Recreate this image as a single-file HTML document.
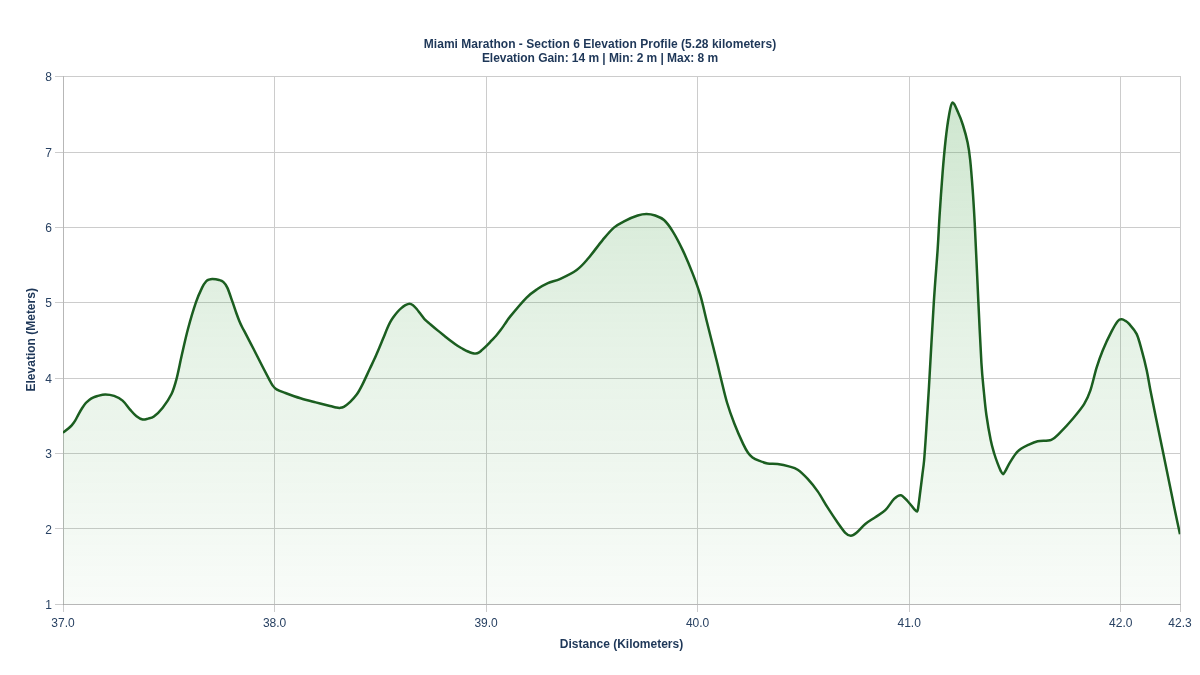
<!DOCTYPE html>
<html lang="en"><head><meta charset="utf-8"><title>Miami Marathon - Section 6 Elevation Profile</title>
<style>html,body{margin:0;padding:0;background:#fff;}body{width:1200px;height:675px;overflow:hidden;}svg{display:block;will-change:transform;font-family:"Liberation Sans",Arial,Helvetica,sans-serif;}</style></head><body>
<svg width="1200" height="675" viewBox="0 0 1200 675">
<defs><linearGradient id="g" gradientUnits="userSpaceOnUse" x1="0" y1="0" x2="0" y2="675"><stop offset="0" stop-color="#43a047" stop-opacity="0.31"/><stop offset="0.5" stop-color="#43a047" stop-opacity="0.135"/><stop offset="1" stop-color="#43a047" stop-opacity="0.008"/></linearGradient><clipPath id="c"><rect x="63" y="76.65" width="1117.2" height="527.6"/></clipPath><clipPath id="a"><rect x="63" y="76" width="1117" height="528.24"/></clipPath></defs>
<g fill="#cccccc" shape-rendering="crispEdges"><rect x="63" y="76" width="1" height="536"/><rect x="274" y="76" width="1" height="536"/><rect x="486" y="76" width="1" height="536"/><rect x="697" y="76" width="1" height="536"/><rect x="909" y="76" width="1" height="536"/><rect x="1120" y="76" width="1" height="536"/><rect x="1180" y="76" width="1" height="536"/><rect x="55" y="76" width="1126" height="1"/><rect x="55" y="152" width="1126" height="1"/><rect x="55" y="227" width="1126" height="1"/><rect x="55" y="302" width="1126" height="1"/><rect x="55" y="378" width="1126" height="1"/><rect x="55" y="453" width="1126" height="1"/><rect x="55" y="528" width="1126" height="1"/><rect x="55" y="604" width="1126" height="1"/></g>
<g fill="#000" fill-opacity="0.1" shape-rendering="crispEdges"><rect x="63" y="76" width="1" height="529"/><rect x="63" y="604" width="1118" height="1"/></g>
<path d="M63.00,432.70C63.88,432.00 66.85,429.73 68.30,428.50C69.75,427.27 70.58,426.57 71.70,425.30C72.82,424.03 73.87,422.73 75.00,420.90C76.13,419.07 77.30,416.45 78.50,414.30C79.70,412.15 80.98,409.88 82.20,408.00C83.42,406.12 84.63,404.35 85.80,403.00C86.97,401.65 88.00,400.80 89.20,399.90C90.40,399.00 91.62,398.25 93.00,397.60C94.38,396.95 95.47,396.53 97.50,396.00C99.53,395.47 102.43,394.42 105.20,394.40C107.97,394.38 111.20,394.87 114.10,395.90C117.00,396.93 119.93,398.32 122.60,400.60C125.27,402.88 127.78,406.98 130.10,409.60C132.42,412.22 134.40,414.65 136.50,416.30C138.60,417.95 140.78,419.12 142.70,419.50C144.62,419.88 146.13,419.10 148.00,418.60C149.87,418.10 151.45,418.32 153.90,416.50C156.35,414.68 159.77,411.45 162.70,407.70C165.63,403.95 169.20,398.78 171.50,394.00C173.80,389.22 174.78,385.50 176.50,379.00C178.22,372.50 179.87,363.42 181.80,355.00C183.73,346.58 185.73,337.30 188.10,328.50C190.47,319.70 193.67,309.02 196.00,302.20C198.33,295.38 200.40,291.08 202.10,287.60C203.80,284.12 205.05,282.63 206.20,281.30C207.35,279.97 207.95,279.98 209.00,279.60C210.05,279.22 210.82,278.93 212.50,279.00C214.18,279.07 217.32,279.52 219.10,280.00C220.88,280.48 221.83,280.63 223.20,281.90C224.57,283.17 225.73,284.22 227.30,287.60C228.87,290.98 231.10,297.97 232.60,302.20C234.10,306.43 235.18,309.88 236.30,313.00C237.42,316.12 238.32,318.53 239.30,320.90C240.28,323.27 241.08,324.95 242.20,327.20C243.32,329.45 244.10,330.77 246.00,334.40C247.90,338.03 251.07,344.07 253.60,349.00C256.13,353.93 258.67,359.07 261.20,364.00C263.73,368.93 266.92,375.05 268.80,378.60C270.68,382.15 271.20,383.50 272.50,385.30C273.80,387.10 274.45,388.12 276.60,389.40C278.75,390.68 281.42,391.52 285.40,393.00C289.38,394.48 295.45,396.73 300.50,398.30C305.55,399.87 310.78,401.12 315.70,402.40C320.62,403.68 326.62,405.15 330.00,406.00C333.38,406.85 334.37,407.18 336.00,407.50C337.63,407.82 338.50,408.02 339.80,407.90C341.10,407.78 342.07,407.82 343.80,406.80C345.53,405.78 348.05,403.83 350.20,401.80C352.35,399.77 354.73,397.33 356.70,394.60C358.67,391.87 359.83,389.67 362.00,385.40C364.17,381.13 367.63,373.38 369.70,369.00C371.77,364.62 372.85,362.52 374.40,359.10C375.95,355.68 377.55,351.92 379.00,348.50C380.45,345.08 381.73,341.92 383.10,338.60C384.47,335.28 386.02,331.33 387.20,328.60C388.38,325.87 389.22,324.05 390.20,322.20C391.18,320.35 391.93,319.17 393.10,317.50C394.27,315.83 395.83,313.77 397.20,312.20C398.57,310.63 399.93,309.27 401.30,308.10C402.67,306.93 404.03,305.92 405.40,305.20C406.77,304.48 408.23,303.80 409.50,303.80C410.77,303.80 411.83,304.38 413.00,305.20C414.17,306.02 415.23,307.23 416.50,308.70C417.77,310.17 419.23,312.23 420.60,314.00C421.97,315.77 423.03,317.55 424.70,319.30C426.37,321.05 428.45,322.65 430.60,324.50C432.75,326.35 435.27,328.48 437.60,330.40C439.93,332.32 442.27,334.15 444.60,336.00C446.93,337.85 449.45,339.87 451.60,341.50C453.75,343.13 455.73,344.63 457.50,345.80C459.27,346.97 460.45,347.55 462.20,348.50C463.95,349.45 466.25,350.72 468.00,351.50C469.75,352.28 471.43,352.85 472.70,353.20C473.97,353.55 474.53,353.73 475.60,353.60C476.67,353.47 478.02,353.02 479.10,352.40C480.18,351.78 480.83,351.03 482.10,349.90C483.37,348.77 485.15,347.13 486.70,345.60C488.25,344.07 489.83,342.35 491.40,340.70C492.97,339.05 494.53,337.52 496.10,335.70C497.67,333.88 499.32,331.77 500.80,329.80C502.28,327.83 503.42,326.13 505.00,323.90C506.58,321.67 506.70,320.78 510.30,316.40C513.90,312.02 522.02,302.20 526.60,297.60C531.18,293.00 534.25,291.22 537.80,288.80C541.35,286.38 544.13,284.77 547.90,283.10C551.67,281.43 555.60,280.98 560.40,278.80C565.20,276.62 572.12,273.33 576.70,270.00C581.28,266.67 583.58,263.78 587.90,258.80C592.22,253.82 598.27,245.30 602.60,240.10C606.93,234.90 610.15,230.82 613.90,227.60C617.65,224.38 621.13,222.82 625.10,220.80C629.07,218.78 634.15,216.63 637.70,215.50C641.25,214.37 643.48,214.00 646.40,214.00C649.32,214.00 652.27,214.50 655.20,215.50C658.13,216.50 661.08,217.37 664.00,220.00C666.92,222.63 669.58,226.28 672.70,231.30C675.82,236.32 679.35,243.00 682.70,250.10C686.05,257.20 689.87,266.38 692.80,273.90C695.73,281.42 698.02,287.48 700.30,295.20C702.58,302.92 704.42,311.85 706.50,320.20C708.58,328.55 711.00,338.12 712.80,345.30C714.60,352.48 715.88,357.52 717.30,363.30C718.72,369.08 719.68,373.47 721.30,380.00C722.92,386.53 724.82,395.20 727.00,402.50C729.18,409.80 731.72,416.90 734.40,423.80C737.08,430.70 740.83,439.08 743.10,443.90C745.37,448.72 746.43,450.45 748.00,452.70C749.57,454.95 750.68,456.07 752.50,457.40C754.32,458.73 756.38,459.70 758.90,460.70C761.42,461.70 764.48,462.83 767.60,463.40C770.72,463.97 774.05,463.60 777.60,464.10C781.15,464.60 785.55,465.47 788.90,466.40C792.25,467.33 794.57,467.62 797.70,469.70C800.83,471.78 804.37,475.28 807.70,478.90C811.03,482.52 814.37,486.60 817.70,491.40C821.03,496.20 824.37,502.48 827.70,507.70C831.03,512.92 834.77,518.52 837.70,522.70C840.63,526.88 843.12,530.62 845.30,532.80C847.48,534.98 848.93,535.80 850.80,535.80C852.67,535.80 854.08,534.77 856.50,532.80C858.92,530.83 862.17,526.60 865.30,524.00C868.43,521.40 871.97,519.50 875.30,517.20C878.63,514.90 882.17,513.25 885.30,510.20C888.43,507.15 891.50,501.40 894.10,498.90C896.70,496.40 898.60,494.77 900.90,495.20C903.20,495.63 905.72,499.23 907.90,501.50C910.08,503.77 912.45,507.15 914.00,508.80C915.55,510.45 916.47,511.87 917.20,511.40C917.93,510.93 917.87,509.48 918.40,506.00C918.93,502.52 919.73,495.75 920.40,490.50C921.07,485.25 921.78,479.50 922.40,474.50C923.02,469.50 923.53,466.75 924.10,460.50C924.67,454.25 925.28,444.58 925.80,437.00C926.32,429.42 926.68,423.17 927.20,415.00C927.72,406.83 927.80,406.73 928.90,388.00C930.00,369.27 932.35,325.60 933.80,302.60C935.25,279.60 936.63,264.57 937.60,250.00C938.57,235.43 938.77,228.10 939.60,215.20C940.43,202.30 941.60,185.13 942.60,172.60C943.60,160.07 944.55,149.43 945.60,140.00C946.65,130.57 947.77,122.23 948.90,116.00C950.03,109.77 950.90,103.27 952.40,102.60C953.90,101.93 956.15,108.27 957.90,112.00C959.65,115.73 961.28,119.90 962.90,125.00C964.52,130.10 966.38,136.75 967.60,142.60C968.82,148.45 969.35,152.17 970.20,160.10C971.05,168.03 971.95,179.77 972.70,190.20C973.45,200.63 974.08,211.23 974.70,222.70C975.32,234.17 975.78,245.68 976.40,259.00C977.02,272.32 977.57,285.32 978.40,302.60C979.23,319.88 980.48,347.80 981.40,362.70C982.32,377.60 983.07,383.28 983.90,392.00C984.73,400.72 985.27,407.00 986.40,415.00C987.53,423.00 989.40,433.58 990.70,440.00C992.00,446.42 993.05,449.60 994.20,453.50C995.35,457.40 996.53,460.55 997.60,463.40C998.67,466.25 999.70,468.80 1000.60,470.60C1001.50,472.40 1002.17,474.20 1003.00,474.20C1003.83,474.20 1004.53,472.40 1005.60,470.60C1006.67,468.80 1007.68,466.25 1009.40,463.40C1011.12,460.55 1013.97,455.93 1015.90,453.50C1017.83,451.07 1019.03,450.20 1021.00,448.80C1022.97,447.40 1024.92,446.35 1027.70,445.10C1030.48,443.85 1033.77,442.18 1037.70,441.30C1041.63,440.42 1047.53,441.28 1051.30,439.80C1055.07,438.32 1056.72,435.90 1060.30,432.40C1063.88,428.90 1068.83,423.50 1072.80,418.80C1076.77,414.10 1081.18,408.88 1084.10,404.20C1087.02,399.52 1088.22,396.78 1090.30,390.70C1092.38,384.62 1094.52,374.45 1096.60,367.70C1098.68,360.95 1100.30,356.25 1102.80,350.20C1105.30,344.15 1109.08,336.27 1111.60,331.40C1114.12,326.53 1116.20,323.02 1117.90,321.00C1119.60,318.98 1120.53,319.32 1121.80,319.30C1123.07,319.28 1124.28,320.13 1125.50,320.90C1126.72,321.67 1127.25,321.73 1129.10,323.90C1130.95,326.07 1134.50,329.52 1136.60,333.90C1138.70,338.28 1140.02,344.15 1141.70,350.20C1143.38,356.25 1145.25,363.53 1146.70,370.20C1148.15,376.87 1148.85,382.23 1150.40,390.20C1151.95,398.17 1153.97,408.02 1156.00,418.00C1158.03,427.98 1160.30,438.90 1162.60,450.10C1164.90,461.30 1168.10,476.88 1169.80,485.20C1171.50,493.52 1171.85,495.32 1172.80,500.00C1173.75,504.68 1174.30,507.58 1175.50,513.30C1176.70,519.02 1179.25,530.80 1180.00,534.30L1180.0,604.24 L63.0,604.24 Z" fill="url(#g)" clip-path="url(#a)"/>
<path d="M63.00,432.70C63.88,432.00 66.85,429.73 68.30,428.50C69.75,427.27 70.58,426.57 71.70,425.30C72.82,424.03 73.87,422.73 75.00,420.90C76.13,419.07 77.30,416.45 78.50,414.30C79.70,412.15 80.98,409.88 82.20,408.00C83.42,406.12 84.63,404.35 85.80,403.00C86.97,401.65 88.00,400.80 89.20,399.90C90.40,399.00 91.62,398.25 93.00,397.60C94.38,396.95 95.47,396.53 97.50,396.00C99.53,395.47 102.43,394.42 105.20,394.40C107.97,394.38 111.20,394.87 114.10,395.90C117.00,396.93 119.93,398.32 122.60,400.60C125.27,402.88 127.78,406.98 130.10,409.60C132.42,412.22 134.40,414.65 136.50,416.30C138.60,417.95 140.78,419.12 142.70,419.50C144.62,419.88 146.13,419.10 148.00,418.60C149.87,418.10 151.45,418.32 153.90,416.50C156.35,414.68 159.77,411.45 162.70,407.70C165.63,403.95 169.20,398.78 171.50,394.00C173.80,389.22 174.78,385.50 176.50,379.00C178.22,372.50 179.87,363.42 181.80,355.00C183.73,346.58 185.73,337.30 188.10,328.50C190.47,319.70 193.67,309.02 196.00,302.20C198.33,295.38 200.40,291.08 202.10,287.60C203.80,284.12 205.05,282.63 206.20,281.30C207.35,279.97 207.95,279.98 209.00,279.60C210.05,279.22 210.82,278.93 212.50,279.00C214.18,279.07 217.32,279.52 219.10,280.00C220.88,280.48 221.83,280.63 223.20,281.90C224.57,283.17 225.73,284.22 227.30,287.60C228.87,290.98 231.10,297.97 232.60,302.20C234.10,306.43 235.18,309.88 236.30,313.00C237.42,316.12 238.32,318.53 239.30,320.90C240.28,323.27 241.08,324.95 242.20,327.20C243.32,329.45 244.10,330.77 246.00,334.40C247.90,338.03 251.07,344.07 253.60,349.00C256.13,353.93 258.67,359.07 261.20,364.00C263.73,368.93 266.92,375.05 268.80,378.60C270.68,382.15 271.20,383.50 272.50,385.30C273.80,387.10 274.45,388.12 276.60,389.40C278.75,390.68 281.42,391.52 285.40,393.00C289.38,394.48 295.45,396.73 300.50,398.30C305.55,399.87 310.78,401.12 315.70,402.40C320.62,403.68 326.62,405.15 330.00,406.00C333.38,406.85 334.37,407.18 336.00,407.50C337.63,407.82 338.50,408.02 339.80,407.90C341.10,407.78 342.07,407.82 343.80,406.80C345.53,405.78 348.05,403.83 350.20,401.80C352.35,399.77 354.73,397.33 356.70,394.60C358.67,391.87 359.83,389.67 362.00,385.40C364.17,381.13 367.63,373.38 369.70,369.00C371.77,364.62 372.85,362.52 374.40,359.10C375.95,355.68 377.55,351.92 379.00,348.50C380.45,345.08 381.73,341.92 383.10,338.60C384.47,335.28 386.02,331.33 387.20,328.60C388.38,325.87 389.22,324.05 390.20,322.20C391.18,320.35 391.93,319.17 393.10,317.50C394.27,315.83 395.83,313.77 397.20,312.20C398.57,310.63 399.93,309.27 401.30,308.10C402.67,306.93 404.03,305.92 405.40,305.20C406.77,304.48 408.23,303.80 409.50,303.80C410.77,303.80 411.83,304.38 413.00,305.20C414.17,306.02 415.23,307.23 416.50,308.70C417.77,310.17 419.23,312.23 420.60,314.00C421.97,315.77 423.03,317.55 424.70,319.30C426.37,321.05 428.45,322.65 430.60,324.50C432.75,326.35 435.27,328.48 437.60,330.40C439.93,332.32 442.27,334.15 444.60,336.00C446.93,337.85 449.45,339.87 451.60,341.50C453.75,343.13 455.73,344.63 457.50,345.80C459.27,346.97 460.45,347.55 462.20,348.50C463.95,349.45 466.25,350.72 468.00,351.50C469.75,352.28 471.43,352.85 472.70,353.20C473.97,353.55 474.53,353.73 475.60,353.60C476.67,353.47 478.02,353.02 479.10,352.40C480.18,351.78 480.83,351.03 482.10,349.90C483.37,348.77 485.15,347.13 486.70,345.60C488.25,344.07 489.83,342.35 491.40,340.70C492.97,339.05 494.53,337.52 496.10,335.70C497.67,333.88 499.32,331.77 500.80,329.80C502.28,327.83 503.42,326.13 505.00,323.90C506.58,321.67 506.70,320.78 510.30,316.40C513.90,312.02 522.02,302.20 526.60,297.60C531.18,293.00 534.25,291.22 537.80,288.80C541.35,286.38 544.13,284.77 547.90,283.10C551.67,281.43 555.60,280.98 560.40,278.80C565.20,276.62 572.12,273.33 576.70,270.00C581.28,266.67 583.58,263.78 587.90,258.80C592.22,253.82 598.27,245.30 602.60,240.10C606.93,234.90 610.15,230.82 613.90,227.60C617.65,224.38 621.13,222.82 625.10,220.80C629.07,218.78 634.15,216.63 637.70,215.50C641.25,214.37 643.48,214.00 646.40,214.00C649.32,214.00 652.27,214.50 655.20,215.50C658.13,216.50 661.08,217.37 664.00,220.00C666.92,222.63 669.58,226.28 672.70,231.30C675.82,236.32 679.35,243.00 682.70,250.10C686.05,257.20 689.87,266.38 692.80,273.90C695.73,281.42 698.02,287.48 700.30,295.20C702.58,302.92 704.42,311.85 706.50,320.20C708.58,328.55 711.00,338.12 712.80,345.30C714.60,352.48 715.88,357.52 717.30,363.30C718.72,369.08 719.68,373.47 721.30,380.00C722.92,386.53 724.82,395.20 727.00,402.50C729.18,409.80 731.72,416.90 734.40,423.80C737.08,430.70 740.83,439.08 743.10,443.90C745.37,448.72 746.43,450.45 748.00,452.70C749.57,454.95 750.68,456.07 752.50,457.40C754.32,458.73 756.38,459.70 758.90,460.70C761.42,461.70 764.48,462.83 767.60,463.40C770.72,463.97 774.05,463.60 777.60,464.10C781.15,464.60 785.55,465.47 788.90,466.40C792.25,467.33 794.57,467.62 797.70,469.70C800.83,471.78 804.37,475.28 807.70,478.90C811.03,482.52 814.37,486.60 817.70,491.40C821.03,496.20 824.37,502.48 827.70,507.70C831.03,512.92 834.77,518.52 837.70,522.70C840.63,526.88 843.12,530.62 845.30,532.80C847.48,534.98 848.93,535.80 850.80,535.80C852.67,535.80 854.08,534.77 856.50,532.80C858.92,530.83 862.17,526.60 865.30,524.00C868.43,521.40 871.97,519.50 875.30,517.20C878.63,514.90 882.17,513.25 885.30,510.20C888.43,507.15 891.50,501.40 894.10,498.90C896.70,496.40 898.60,494.77 900.90,495.20C903.20,495.63 905.72,499.23 907.90,501.50C910.08,503.77 912.45,507.15 914.00,508.80C915.55,510.45 916.47,511.87 917.20,511.40C917.93,510.93 917.87,509.48 918.40,506.00C918.93,502.52 919.73,495.75 920.40,490.50C921.07,485.25 921.78,479.50 922.40,474.50C923.02,469.50 923.53,466.75 924.10,460.50C924.67,454.25 925.28,444.58 925.80,437.00C926.32,429.42 926.68,423.17 927.20,415.00C927.72,406.83 927.80,406.73 928.90,388.00C930.00,369.27 932.35,325.60 933.80,302.60C935.25,279.60 936.63,264.57 937.60,250.00C938.57,235.43 938.77,228.10 939.60,215.20C940.43,202.30 941.60,185.13 942.60,172.60C943.60,160.07 944.55,149.43 945.60,140.00C946.65,130.57 947.77,122.23 948.90,116.00C950.03,109.77 950.90,103.27 952.40,102.60C953.90,101.93 956.15,108.27 957.90,112.00C959.65,115.73 961.28,119.90 962.90,125.00C964.52,130.10 966.38,136.75 967.60,142.60C968.82,148.45 969.35,152.17 970.20,160.10C971.05,168.03 971.95,179.77 972.70,190.20C973.45,200.63 974.08,211.23 974.70,222.70C975.32,234.17 975.78,245.68 976.40,259.00C977.02,272.32 977.57,285.32 978.40,302.60C979.23,319.88 980.48,347.80 981.40,362.70C982.32,377.60 983.07,383.28 983.90,392.00C984.73,400.72 985.27,407.00 986.40,415.00C987.53,423.00 989.40,433.58 990.70,440.00C992.00,446.42 993.05,449.60 994.20,453.50C995.35,457.40 996.53,460.55 997.60,463.40C998.67,466.25 999.70,468.80 1000.60,470.60C1001.50,472.40 1002.17,474.20 1003.00,474.20C1003.83,474.20 1004.53,472.40 1005.60,470.60C1006.67,468.80 1007.68,466.25 1009.40,463.40C1011.12,460.55 1013.97,455.93 1015.90,453.50C1017.83,451.07 1019.03,450.20 1021.00,448.80C1022.97,447.40 1024.92,446.35 1027.70,445.10C1030.48,443.85 1033.77,442.18 1037.70,441.30C1041.63,440.42 1047.53,441.28 1051.30,439.80C1055.07,438.32 1056.72,435.90 1060.30,432.40C1063.88,428.90 1068.83,423.50 1072.80,418.80C1076.77,414.10 1081.18,408.88 1084.10,404.20C1087.02,399.52 1088.22,396.78 1090.30,390.70C1092.38,384.62 1094.52,374.45 1096.60,367.70C1098.68,360.95 1100.30,356.25 1102.80,350.20C1105.30,344.15 1109.08,336.27 1111.60,331.40C1114.12,326.53 1116.20,323.02 1117.90,321.00C1119.60,318.98 1120.53,319.32 1121.80,319.30C1123.07,319.28 1124.28,320.13 1125.50,320.90C1126.72,321.67 1127.25,321.73 1129.10,323.90C1130.95,326.07 1134.50,329.52 1136.60,333.90C1138.70,338.28 1140.02,344.15 1141.70,350.20C1143.38,356.25 1145.25,363.53 1146.70,370.20C1148.15,376.87 1148.85,382.23 1150.40,390.20C1151.95,398.17 1153.97,408.02 1156.00,418.00C1158.03,427.98 1160.30,438.90 1162.60,450.10C1164.90,461.30 1168.10,476.88 1169.80,485.20C1171.50,493.52 1171.85,495.32 1172.80,500.00C1173.75,504.68 1174.30,507.58 1175.50,513.30C1176.70,519.02 1179.25,530.80 1180.00,534.30" fill="none" stroke="#1b5e20" stroke-width="2.5" stroke-linejoin="round" stroke-linecap="butt" clip-path="url(#c)"/>
<g font-size="12" fill="#284162">
<text x="63.0" y="627.3" text-anchor="middle">37.0</text>
<text x="274.6" y="627.3" text-anchor="middle">38.0</text>
<text x="486.1" y="627.3" text-anchor="middle">39.0</text>
<text x="697.6" y="627.3" text-anchor="middle">40.0</text>
<text x="909.2" y="627.3" text-anchor="middle">41.0</text>
<text x="1120.8" y="627.3" text-anchor="middle">42.0</text>
<text x="1180.0" y="627.3" text-anchor="middle">42.3</text>
<text x="52" y="81.2" text-anchor="end">8</text>
<text x="52" y="156.6" text-anchor="end">7</text>
<text x="52" y="232.0" text-anchor="end">6</text>
<text x="52" y="307.4" text-anchor="end">5</text>
<text x="52" y="382.7" text-anchor="end">4</text>
<text x="52" y="458.1" text-anchor="end">3</text>
<text x="52" y="533.5" text-anchor="end">2</text>
<text x="52" y="608.8" text-anchor="end">1</text>
</g>
<g font-size="12" font-weight="bold" fill="#1e3758" text-anchor="middle">
<text x="600" y="48" textLength="352.4">Miami Marathon - Section 6 Elevation Profile (5.28 kilometers)</text>
<text x="600" y="62.4" textLength="236.2">Elevation Gain: 14 m | Min: 2 m | Max: 8 m</text>
<text x="621.5" y="648">Distance (Kilometers)</text>
<text transform="translate(35.2,339.8) rotate(-90)">Elevation (Meters)</text>
</g>
</svg></body></html>
